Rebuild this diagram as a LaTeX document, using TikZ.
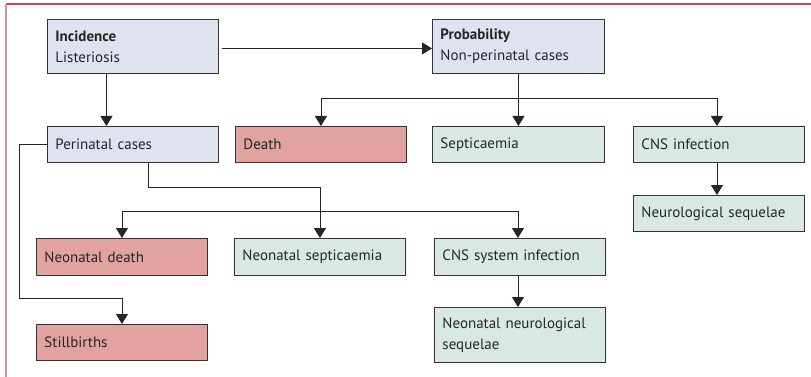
\documentclass[tikz,border=0pt]{standalone}
\usepackage{fontspec}
\setmainfont{PT Sans}
\usetikzlibrary{arrows.meta,calc}
\definecolor{bluebox}{HTML}{DEE3EF}
\definecolor{redbox}{HTML}{E2A3A0}
\definecolor{greenbox}{HTML}{DAE8E2}
\definecolor{edge}{HTML}{333333}
\definecolor{txt}{HTML}{262626}
\definecolor{framet}{HTML}{D83C64}
\definecolor{framel}{HTML}{E28CA0}
\tikzset{
  box/.style={draw=edge, line width=0.9pt, anchor=north west, inner xsep=8pt, inner ysep=0pt,
    text width=155pt, align=left, text=txt, font=\fontsize{15}{21}\selectfont},
  bluestyle/.style={box, fill=bluebox},
  redstyle/.style={box, fill=redbox},
  greenstyle/.style={box, fill=greenbox},
  arr/.style={draw=txt, line width=0.9pt, -{Triangle[width=12pt,length=10pt]}},
  conn/.style={draw=txt, line width=0.9pt}
}
\begin{document}
\begin{tikzpicture}[x=1pt,y=-1pt]
\useasboundingbox (0,0) rectangle (811,377);
\fill[white] (0,0) rectangle (811,377);
\draw[framet, line width=1.3pt] (6,4) -- (811,4);
\draw[framel, line width=1.3pt] (6,4) -- (6,377);

\node[bluestyle, minimum height=54pt] (inc) at (47,19) {\textbf{Incidence}\\Listeriosis};
\node[bluestyle, minimum height=54pt, text width=156pt] (prob) at (432,19) {\textbf{Probability}\\Non-perinatal cases};
\node[bluestyle, minimum height=36pt] (peri) at (47,126) {Perinatal cases};
\node[redstyle, minimum height=36pt] (death) at (235,126) {Death};
\node[greenstyle, minimum height=36pt, text width=156pt] (sept) at (432,126) {Septicaemia};
\node[greenstyle, minimum height=36pt] (cns) at (633,126) {CNS infection};
\node[greenstyle, minimum height=36pt] (neuro) at (633,195) {Neurological sequelae};
\node[redstyle, minimum height=37pt] (ndeath) at (36,238) {Neonatal death};
\node[greenstyle, minimum height=37pt] (nsept) at (234,238) {Neonatal septicaemia};
\node[greenstyle, minimum height=37pt] (ncns) at (434,238) {CNS system infection};
\node[greenstyle, minimum height=55pt] (nneuro) at (434,307) {Neonatal neurological\\sequelae};
\node[redstyle, minimum height=36pt] (still) at (36,324) {Stillbirths};

% Incidence -> Probability
\draw[arr] ([xshift=3pt,yshift=-2pt]inc.east) -- ([yshift=-2pt]prob.west);
% Incidence -> Perinatal
\draw[arr] ([xshift=-26.5pt]inc.south) -- ([xshift=-26.5pt]peri.north);
% Probability branches
\coordinate (j1) at ($(prob.south)+(0,25)$);
\draw[arr] (prob.south) -- (sept.north);
\draw[arr] (j1) -| (death.north);
\draw[arr] (j1) -| ([xshift=-2pt]cns.north);
\draw[arr] ([xshift=-2pt]cns.south) -- ([xshift=-2pt]neuro.north);
% Perinatal branches
\coordinate (j2) at ($(nsept.north)+(0,-51)$);
\draw[arr] ([xshift=15.5pt]peri.south) |- (j2) -- (nsept.north);
\coordinate (j3) at ($(nsept.north)+(0,-27)$);
\draw[arr] (j3) -| (ndeath.north);
\draw[arr] (j3) -| ([xshift=-2pt]ncns.north);
\draw[arr] ([xshift=-2pt]ncns.south) -- ([xshift=-2pt]nneuro.north);
\coordinate (j4) at ($(still.north)+(0,-26)$);
\draw[arr] (peri.west) -- ++(-28,0) |- (j4) -- (still.north);
\end{tikzpicture}
\end{document}
